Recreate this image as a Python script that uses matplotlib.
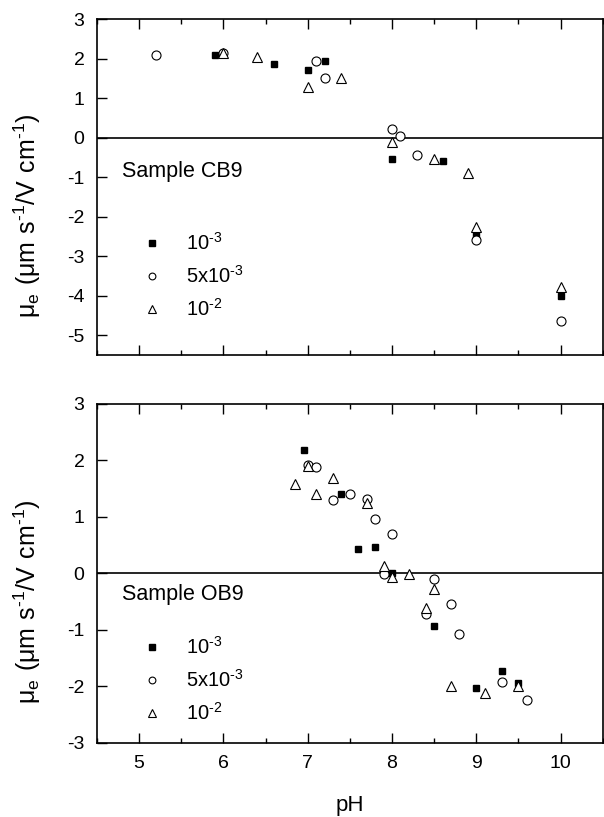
import matplotlib
matplotlib.use("Agg")
import matplotlib.pyplot as plt
from matplotlib.ticker import MultipleLocator

plt.rcParams["font.family"] = ["Liberation Sans", "DejaVu Sans"]
plt.rcParams["axes.unicode_minus"] = False
plt.rcParams["mathtext.fontset"] = "custom"
plt.rcParams["mathtext.rm"] = "Liberation Sans"

# Sample CB9
cb_ph1 = [5.9, 6.6, 7.0, 7.2, 8.0, 8.6, 9.0, 10.0]
cb_mu1 = [2.1, 1.85, 1.7, 1.93, -0.55, -0.6, -2.43, -4.0]
cb_ph2 = [5.2, 6.0, 7.1, 7.2, 8.0, 8.1, 8.3, 9.0, 10.0]
cb_mu2 = [2.1, 2.15, 1.93, 1.5, 0.22, 0.05, -0.45, -2.6, -4.63]
cb_ph3 = [6.0, 6.4, 7.0, 7.4, 8.0, 8.5, 8.9, 9.0, 10.0]
cb_mu3 = [2.15, 2.05, 1.27, 1.5, -0.12, -0.53, -0.9, -2.27, -3.77]

# Sample OB9
ob_ph1 = [6.95, 7.4, 7.6, 7.8, 8.0, 8.5, 9.0, 9.3, 9.5]
ob_mu1 = [2.18, 1.4, 0.42, 0.47, 0.01, -0.93, -2.03, -1.73, -1.94]
ob_ph2 = [7.0, 7.1, 7.3, 7.5, 7.7, 7.8, 8.0, 7.9, 8.5, 8.4, 8.7, 8.8, 9.3, 9.6]
ob_mu2 = [1.92, 1.87, 1.3, 1.4, 1.32, 0.95, 0.69, -0.02, -0.1, -0.72, -0.54, -1.08, -1.92, -2.24]
ob_ph3 = [6.85, 7.0, 7.1, 7.3, 7.7, 7.9, 8.0, 8.2, 8.5, 8.4, 8.7, 9.1, 9.5]
ob_mu3 = [1.57, 1.9, 1.4, 1.68, 1.25, 0.12, -0.06, -0.01, -0.27, -0.62, -2.0, -2.12, -2.0]

labels = [r"$\mathregular{10^{\text{-}3}}$", r"$\mathregular{5x10^{\text{-}3}}$",
          r"$\mathregular{10^{\text{-}2}}$"]
ylab = r"$\mathregular{\mu_e\ (\mu m\ s^{\text{-}1}/V\ cm^{\text{-}1})}$"

fig = plt.figure(figsize=(6.04, 8.17), dpi=100)
ax1 = fig.add_axes([0.1606, 0.5655, 0.8374, 0.4112])
ax2 = fig.add_axes([0.1606, 0.0906, 0.8374, 0.4155])


def draw(ax, data, name, ylim, yticks, name_y, leg_y):
    (p1, m1), (p2, m2), (p3, m3) = data
    ax.axhline(0, color="k", lw=1.2, zorder=1)
    ax.plot(p1, m1, "s", color="k", ms=5, mec="k", ls="none", label=labels[0], zorder=3)
    ax.plot(p2, m2, "o", mfc="white", mec="k", ms=6.5, mew=0.8, ls="none", label=labels[1], zorder=3)
    ax.plot(p3, m3, "^", mfc="white", mec="k", ms=7, mew=0.8, ls="none", label=labels[2], zorder=3)
    ax.set_xlim(4.5, 10.5)
    ax.set_ylim(*ylim)
    ax.set_yticks(yticks)
    ax.xaxis.set_major_locator(MultipleLocator(1))
    ax.xaxis.set_minor_locator(MultipleLocator(0.5))
    ax.tick_params(axis="x", which="major", direction="in", length=7, width=1, top=True,
                   labelsize=14, pad=9)
    ax.tick_params(axis="x", which="minor", direction="in", length=3.5, width=1, top=True)
    ax.tick_params(axis="y", which="major", direction="in", length=7, width=1, right=False,
                   labelsize=14, pad=9)
    for sp in ax.spines.values():
        sp.set_linewidth(1.2)
    ax.set_ylabel(ylab, fontsize=18)
    ax.yaxis.set_label_coords(-0.107, 0.415)
    ax.text(0.049, name_y, name, transform=ax.transAxes, fontsize=15.5, va="center", ha="left")
    ax.legend(loc="upper left", bbox_to_anchor=(0.069, leg_y), frameon=False,
              fontsize=14.5, markerscale=0.75, handlelength=1.0, handletextpad=1.2,
              labelspacing=0.55, borderpad=0)


draw(ax1, [(cb_ph1, cb_mu1), (cb_ph2, cb_mu2), (cb_ph3, cb_mu3)], "Sample CB9",
     (-5.5, 3), range(-5, 4), 0.545, 0.395)
ax1.tick_params(axis="x", labelbottom=False)

draw(ax2, [(ob_ph1, ob_mu1), (ob_ph2, ob_mu2), (ob_ph3, ob_mu3)], "Sample OB9",
     (-3, 3), range(-3, 4), 0.436, 0.345)
ax2.set_xlabel("pH", fontsize=16, labelpad=16)

fig.savefig("out.png", dpi=100)
